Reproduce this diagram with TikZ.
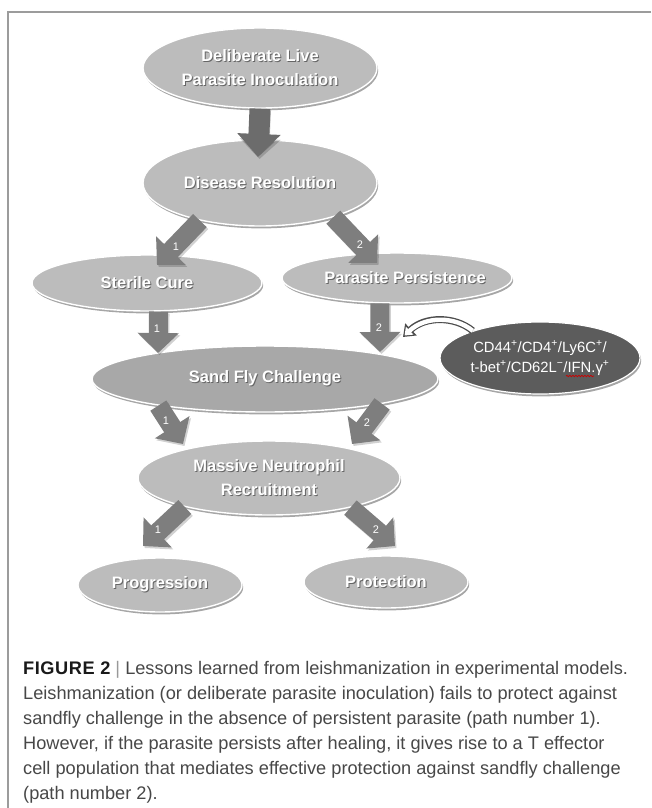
\documentclass[tikz,border=0pt]{standalone}
\usepackage{fontspec}
\setmainfont{Liberation Sans}
\usetikzlibrary{shapes.geometric, arrows.meta, shadows, decorations.pathmorphing, calc}

\definecolor{ellfill}{HTML}{BCBCBC}
\definecolor{ellsand}{HTML}{A8A8A8}
\definecolor{darkell}{HTML}{5C5C5C}
\definecolor{arrowgray}{HTML}{7E7E7E}
\definecolor{arrowdark}{HTML}{6C6C6C}
\definecolor{framegray}{HTML}{9C9C9C}
\definecolor{captext}{HTML}{474747}

\newcommand\shd[1]{\leavevmode\rlap{\hspace{1pt}\raisebox{-1.1pt}{\textcolor{black!60}{#1}}}#1}

\tikzset{
  ell/.style={ellipse, fill=ellfill, draw=white, line width=1.4pt, inner sep=0pt,
    text=white, align=center, font=\fontsize{16.5}{23.5}\selectfont\bfseries,
    drop shadow={shadow xshift=1.2pt, shadow yshift=-2.4pt, opacity=0.35, fill=black}},
  darkellipse/.style={ellipse, fill=darkell, draw=white, line width=1.2pt, inner sep=0pt,
    text=white, align=center, font=\fontsize{14.8}{20}\selectfont,
    drop shadow={shadow xshift=1.2pt, shadow yshift=-2.4pt, opacity=0.35, fill=black}},
  blk/.style={line width=19pt, draw=arrowgray, -{Triangle[length=20pt,width=40pt]}},
  blkshadow/.style={line width=19pt, draw=black, opacity=0.18, -{Triangle[length=20pt,width=40pt]}},
  num/.style={text=white, font=\fontsize{11}{13}\selectfont, inner sep=0pt},
  capline/.style={anchor=base west, inner sep=0pt, text=captext, font=\fontsize{18.2}{25}\selectfont},
}

\begin{document}
\begin{tikzpicture}[x=1pt, y=-1pt]
\useasboundingbox (0,0) rectangle (651,808);

% frame
\draw[framegray, line width=1.2pt] (651,12) -- (8,12) -- (8,808);

% ellipses
\node[ell, minimum width=234pt, minimum height=80pt] (inoc) at (260,68)
  {\shd{Deliberate Live}\\\shd{Parasite Inoculation}};
\node[ell, minimum width=234pt, minimum height=86pt] (res) at (260,183)
  {\shd{Disease Resolution}};
\node[ell, minimum width=230pt, minimum height=56pt] (sc) at (147,283)
  {\makebox[0pt]{\shd{Sterile Cure}}};
\node[ell, minimum width=230pt, minimum height=50pt] (pp) at (397,278)
  {\makebox[0pt]{\hspace*{16pt}\shd{Parasite Persistence}}};
\node[ell, fill=ellsand, minimum width=346pt, minimum height=66pt] (sf) at (265,379)
  {\shd{Sand Fly Challenge}};
\node[darkellipse, minimum width=200pt, minimum height=72pt] (cd) at (540,358)
  {CD44\textsuperscript{+}/CD4\textsuperscript{+}/Ly6C\textsuperscript{+}/\\
   t-bet\textsuperscript{+}/CD62L\textsuperscript{−}/IFN.γ\textsuperscript{+}};
\node[ell, minimum width=262pt, minimum height=74pt] (mn) at (269,478)
  {\shd{Massive Neutrophil}\\\shd{Recruitment}};
\node[ell, minimum width=164pt, minimum height=54pt] (pg) at (160,585)
  {\makebox[0pt]{\shd{Progression}}};
\node[ell, minimum width=164pt, minimum height=52pt] (pt) at (386,582)
  {\makebox[0pt]{\shd{Protection}}};

% arrow tips
\coordinate (t0) at (258,157);
\coordinate (t1) at (157,265);
\coordinate (t2) at (377,263);
\coordinate (t3) at (158,353);
\coordinate (t4) at (380,352);
\coordinate (t5) at (183,444);
\coordinate (t6) at (352,444);
\coordinate (t7) at (143,546);
\coordinate (t8) at (395,546);
\coordinate (ct) at (403,337);

% block arrow shadows
\draw[blkshadow] ([shift={(1.5,2)}]inoc.south) -- ([shift={(1.5,2)}]t0);
\draw[blkshadow] ([shift={(1.5,2)}]res.212) -- ([shift={(1.5,2)}]t1);
\draw[blkshadow] ([shift={(1.5,2)}]res.335) -- ([shift={(1.5,2)}]t2);
\draw[blkshadow] ([shift={(1.5,2)}]sc.292) -- ([shift={(1.5,2)}]t3);
\draw[blkshadow] ([shift={(1.5,2)}]pp.236) -- ([shift={(1.5,2)}]t4);
\draw[blkshadow] ([shift={(1.5,2)}]sf.194) -- ([shift={(1.5,2)}]t5);
\draw[blkshadow] ([shift={(1.5,2)}]sf.348) -- ([shift={(1.5,2)}]t6);
\draw[blkshadow] ([shift={(1.5,2)}]mn.199) -- ([shift={(1.5,2)}]t7);
\draw[blkshadow] ([shift={(1.5,2)}]mn.340) -- ([shift={(1.5,2)}]t8);

% block arrows
\draw[blk, draw=arrowdark, line width=21pt, -{Triangle[length=23pt,width=42pt]}] (inoc.south) -- (t0);
\draw[blk] (res.212) -- (t1);
\draw[blk] (res.335) -- (t2);
\draw[blk] (sc.292) -- (t3);
\draw[blk] (pp.236) -- (t4);
\draw[blk] (sf.194) -- (t5);
\draw[blk] (sf.348) -- (t6);
\draw[blk] (mn.199) -- (t7);
\draw[blk] (mn.340) -- (t8);

% path numbers
\node[num] (n1) at (176,247) {1};
\node[num] (n2) at (360,245) {2};
\node[num] (n3) at (157,329) {1};
\node[num] (n4) at (379,328) {2};
\node[num] (n5) at (166,421) {1};
\node[num] (n6) at (367,423) {2};
\node[num] (n7) at (158,530) {1};
\node[num] (n8) at (376,530) {2};

% curved arrow from the T cell population
\draw[line width=7pt, draw=black!70, -{Triangle[length=11pt,width=16pt]}]
  (cd.158) .. controls (455,316) and (425,316) .. (ct);
\draw[line width=4.4pt, draw=white, shorten >=2.2pt, -{Triangle[length=7pt,width=10.5pt]}]
  (cd.158) .. controls (455,316) and (425,316) .. (ct);

% spell-check squiggle under IFN.gamma
\draw[red!80!black, line width=0.7pt, decorate, decoration={snake, segment length=3pt, amplitude=0.7pt}]
  (566,376) -- (594,376);

% caption
\node[capline] (c1) at (23,674) {{\bfseries\addfontfeature{LetterSpace=3}\color{black!90}FIGURE 2} {\color{black!40}|} Lessons learned from leishmanization in experimental models.};
\node[capline] (c2) at (23,699) {Leishmanization (or deliberate parasite inoculation) fails to protect against};
\node[capline] (c3) at (23,724) {sandfly challenge in the absence of persistent parasite (path number 1).};
\node[capline] (c4) at (23,749) {However, if the parasite persists after healing, it gives rise to a T effector};
\node[capline] (c5) at (23,774) {cell population that mediates effective protection against sandfly challenge};
\node[capline] (c6) at (23,799) {(path number 2).};
\end{tikzpicture}
\end{document}
